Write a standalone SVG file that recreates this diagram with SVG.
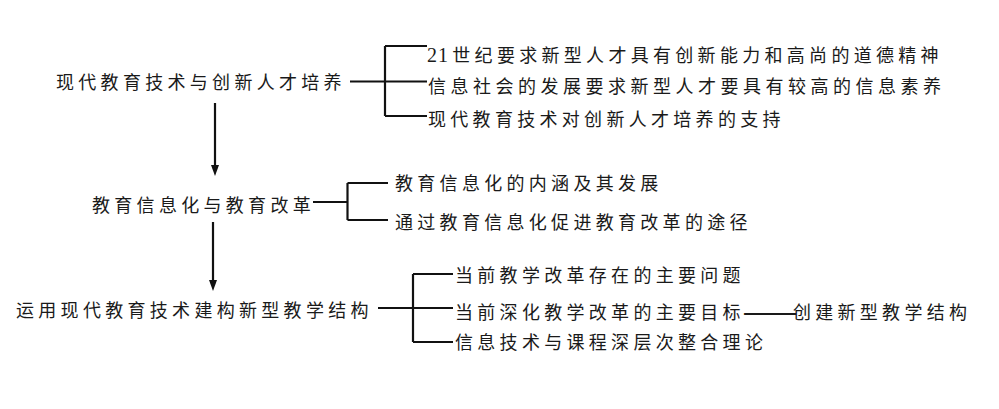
<svg xmlns="http://www.w3.org/2000/svg" width="999" height="409" viewBox="0 0 999 409">
<style>
text{font-family:"Noto Sans CJK SC","Noto Sans CJK JP",sans-serif;font-size:18px;letter-spacing:4.3px;fill:#1a1a1a}
.num{font-family:"Liberation Serif",serif;font-size:20px}
.dash{letter-spacing:0;font-size:33px}
.ln{stroke:#111;stroke-width:2.2;fill:none}
.ah{fill:#111}
</style>
<rect width="999" height="409" fill="#fff"/>
<g id="connectors">
<line class="ln" x1="215" y1="103" x2="215" y2="166"/>
<path class="ah" d="M211,165 L219,165 L215,176 Z"/>
<line class="ln" x1="213" y1="222" x2="213" y2="281"/>
<path class="ah" d="M209,280 L217,280 L213,291 Z"/>
<path class="ln" d="M350,81.5 H385 M385,46 V116 M385,46 H427 M385,81.5 H427 M385,116 H427"/>
<path class="ln" d="M313,202 H347.5 M347.5,183 V220 M347.5,183 H388 M347.5,220 H388"/>
<path class="ln" d="M378,308 H413 M413,274 V342 M413,274 H453 M413,308 H453 M413,342 H453"/>
</g>
<g id="node-1"><text x="56" y="88.5">现代教育技术与创新人才培养</text></g>
<g id="node-1-1"><text x="427" y="61.5"><tspan class="num" style="letter-spacing:1px">2</tspan><tspan class="num">1</tspan>世纪要求新型人才具有创新能力和高尚的道德精神</text></g>
<g id="node-1-2"><text x="428" y="93" style="letter-spacing:4.5px">信息社会的发展要求新型人才要具有较高的信息素养</text></g>
<g id="node-1-3"><text x="428" y="125.5">现代教育技术对创新人才培养的支持</text></g>
<g id="node-2"><text x="92" y="211.5">教育信息化与教育改革</text></g>
<g id="node-2-1"><text x="395" y="189.5">教育信息化的内涵及其发展</text></g>
<g id="node-2-2"><text x="395" y="228.5">通过教育信息化促进教育改革的途径</text></g>
<g id="node-3"><text x="16" y="316.5">运用现代教育技术建构新型教学结构</text></g>
<g id="node-3-1"><text x="455" y="281.5">当前教学改革存在的主要问题</text></g>
<g id="node-3-2"><text x="455" y="318.5">当前深化教学改革的主要目<tspan style="letter-spacing:2px">标</tspan><tspan class="dash" dy="4.5">——</tspan><tspan dy="-4.5" dx="-5">创建新型教学结构</tspan></text></g>
<g id="node-3-3"><text x="455" y="348.5">信息技术与课程深层次整合理论</text></g>
</svg>
